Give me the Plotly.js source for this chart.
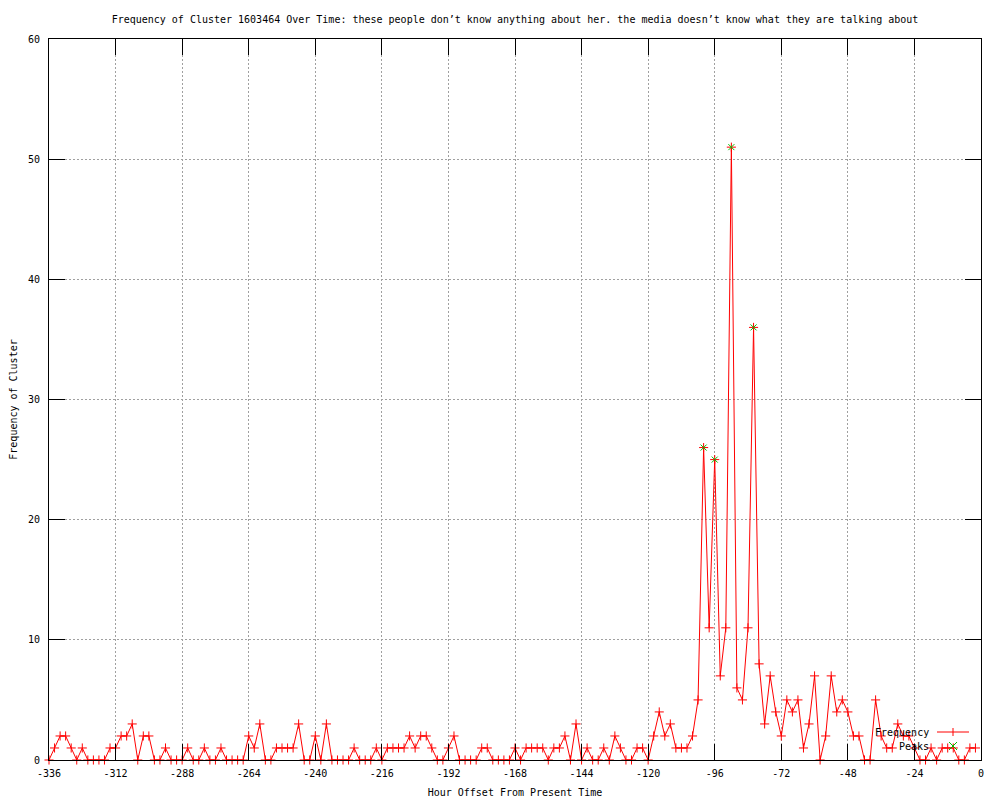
<!DOCTYPE html>
<html>
<head>
<meta charset="utf-8">
<script src="https://cdn.plot.ly/plotly-3.0.1.min.js"></script>
<style>
html,body{margin:0;padding:0;background:#fff;}
#chart{width:1000px;height:800px;}
</style>
</head>
<body>
<div id="chart"></div>
<script>
var titleText = "Frequency of Cluster 1603464 Over Time: these people don\u2019t know anything about her. the media doesn\u2019t know what they are talking about";
var xTitle = "Hour Offset From Present Time";
var yTitle = "Frequency of Cluster";
var seriesNames = ["Frequency", "Peaks"];

var hours = [
-336,-334,-332,-330,-328,-326,-324,-322,-320,-318,-316,-314,
-312,-310,-308,-306,-304,-302,-300,-298,-296,-294,-292,-290,
-288,-286,-284,-282,-280,-278,-276,-274,-272,-270,-268,-266,
-264,-262,-260,-258,-256,-254,-252,-250,-248,-246,-244,-242,
-240,-238,-236,-234,-232,-230,-228,-226,-224,-222,-220,-218,
-216,-214,-212,-210,-208,-206,-204,-202,-200,-198,-196,-194,
-192,-190,-188,-186,-184,-182,-180,-178,-176,-174,-172,-170,
-168,-166,-164,-162,-160,-158,-156,-154,-152,-150,-148,-146,
-144,-142,-140,-138,-136,-134,-132,-130,-128,-126,-124,-122,
-120,-118,-116,-114,-112,-110,-108,-106,-104,-102,-100,-98,
-96,-94,-92,-90,-88,-86,-84,-82,-80,-78,-76,-74,
-72,-70,-68,-66,-64,-62,-60,-58,-56,-54,-52,-50,
-48,-46,-44,-42,-40,-38,-36,-34,-32,-30,-28,-26,
-24,-22,-20,-18,-16,-14,-12,-10,-8,-6,-4,-2
];

var frequency = [
0,1,2,2,1,0,1,0,0,0,0,1,
1,2,2,3,0,2,2,0,0,1,0,0,
0,1,0,0,1,0,0,1,0,0,0,0,
2,1,3,0,0,1,1,1,1,3,0,0,
2,0,3,0,0,0,0,1,0,0,0,1,
0,1,1,1,1,2,1,2,2,1,0,0,
1,2,0,0,0,0,1,1,0,0,0,0,
1,0,1,1,1,1,0,1,1,2,0,3,
0,1,0,0,1,0,2,1,0,0,1,1,
0,2,4,2,3,1,1,1,2,5,26,11,
25,7,11,51,6,5,11,36,8,3,7,4,
2,5,4,5,1,3,7,0,2,7,4,5,
4,2,2,0,0,5,2,1,1,3,2,2,
1,0,0,1,0,1,1,1,0,0,1,1
];

var peakHours = [-100, -96, -90, -82];
var peakValues = [26, 25, 51, 36];

var xTicks = [-336,-312,-288,-264,-240,-216,-192,-168,-144,-120,-96,-72,-48,-24,0];
var yTicks = [0,10,20,30,40,50,60];

var RED = "#ff0000";
var GREEN = "#00c000";
var FONT = "DejaVu Sans Mono, Liberation Mono, monospace";

var traces = [
  {
    x: hours, y: frequency, name: seriesNames[0],
    type: "scatter", mode: "lines+markers",
    line: {color: RED, width: 1},
    marker: {symbol: "cross-thin-open", size: 6.5, color: RED, line: {color: RED, width: 1}},
    showlegend: false, cliponaxis: false
  },
  {
    x: peakHours, y: peakValues, name: seriesNames[1],
    type: "scatter", mode: "markers",
    marker: {symbol: "x-thin-open", size: 6, color: GREEN, line: {color: GREEN, width: 1}},
    showlegend: false, cliponaxis: false
  }
];

// legend (gnuplot style: right-aligned text followed by a sample)
var plotW = 932, plotH = 721;
function px(xp){ return xp / plotW; }
function py(yp){ return yp / plotH; }
var legX = px(953 - 49);
var legY1 = py(760 - 732);
var legY2 = py(760 - 746);

var shapes = [
  {type:"line", xref:"paper", yref:"paper", x0:px(937-49), x1:px(969-49), y0:legY1, y1:legY1, line:{color:RED, width:1}},
  {type:"line", xref:"paper", yref:"paper", xsizemode:"pixel", ysizemode:"pixel", xanchor:legX, yanchor:legY1, x0:0, x1:0, y0:-4, y1:4, line:{color:RED, width:1}},
  {type:"line", xref:"paper", yref:"paper", xsizemode:"pixel", ysizemode:"pixel", xanchor:legX, yanchor:legY2, x0:-4, x1:4, y0:-4, y1:4, line:{color:GREEN, width:1}},
  {type:"line", xref:"paper", yref:"paper", xsizemode:"pixel", ysizemode:"pixel", xanchor:legX, yanchor:legY2, x0:-4, x1:4, y0:4, y1:-4, line:{color:GREEN, width:1}}
];

var annotations = [
  {text: seriesNames[0], xref:"paper", yref:"paper", x:px(931-49), y:legY1, xanchor:"right", yanchor:"middle", showarrow:false, font:{family:FONT, size:10, color:"#000"}},
  {text: seriesNames[1], xref:"paper", yref:"paper", x:px(931-49), y:legY2, xanchor:"right", yanchor:"middle", showarrow:false, font:{family:FONT, size:10, color:"#000"}}
];

var axisCommon = {
  showline: true, linecolor: "#000", linewidth: 1, mirror: "ticks",
  ticks: "inside", ticklen: 16, tickwidth: 1, tickcolor: "#000",
  showgrid: true, gridcolor: "#a0a0a0", gridwidth: 1, griddash: "2px,2px",
  zeroline: false, automargin: false,
  tickfont: {family: FONT, size: 10, color: "#000"}
};

var layout = {
  width: 1000, height: 800,
  paper_bgcolor: "#fff", plot_bgcolor: "#fff",
  margin: {l: 49, r: 19, t: 39, b: 40, pad: 0},
  showlegend: false,
  title: {text: titleText, font: {family: FONT, size: 10, color: "#000"},
          x: 0.515, xref: "container", xanchor: "center", y: 1 - 19/800, yref: "container", yanchor: "middle"},
  xaxis: Object.assign({}, axisCommon, {
    range: [-336, 0], tickmode: "array", tickvals: xTicks, ticktext: xTicks.map(String),
    ticklabelstandoff: 4,
    title: {text: xTitle, font: {family: FONT, size: 10, color: "#000"}, standoff: 10}
  }),
  yaxis: Object.assign({}, axisCommon, {
    range: [0, 60], tickmode: "array", tickvals: yTicks, ticktext: yTicks.map(String),
    ticklabelstandoff: 6,
    title: {text: yTitle, font: {family: FONT, size: 10, color: "#000"}, standoff: 8}
  }),
  shapes: shapes,
  annotations: annotations
};

Plotly.newPlot("chart", traces, layout, {displayModeBar: false, staticPlot: true});
</script>
</body>
</html>
